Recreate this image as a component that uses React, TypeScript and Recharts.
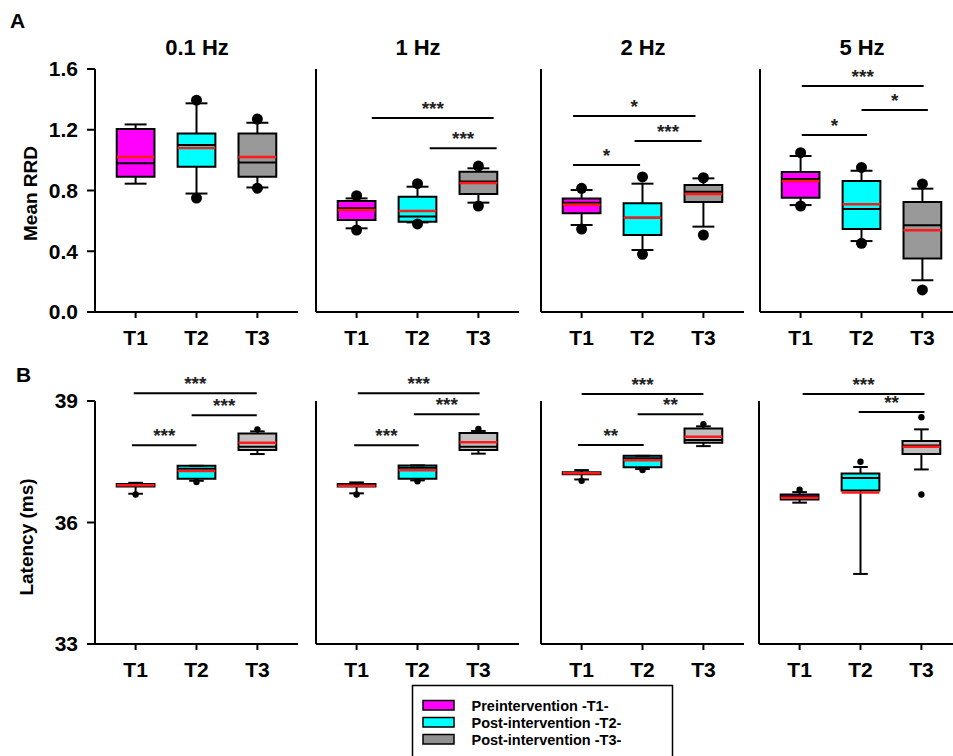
import React from 'react';
import { ComposedChart, XAxis, YAxis, Scatter, ReferenceArea, ReferenceLine } from 'recharts';

const times = ['T1', 'T2', 'T3'];
const freqs = ['0.1 Hz', '1 Hz', '2 Hz', '5 Hz'];
const boxFills = ['#ff00ff', '#00ffff', '#999999'];
const boxFillsB = ['#ff00ff', '#00ffff', '#c0c0c0'];
const legendNames = ['Preintervention -T1-', 'Post-intervention -T2-', 'Post-intervention -T3-'];
const legendFills = ['#ff00ff', '#00ffff', '#909090'];

// Mean RRD: one row per frequency, columns T1..T3
const rrdLow = [[0.845, 0.78, 0.82], [0.551, 0.59, 0.72], [0.573, 0.408, 0.562], [0.704, 0.467, 0.209]];
const rrdQ1 = [[0.89, 0.957, 0.89], [0.606, 0.595, 0.777], [0.65, 0.507, 0.724], [0.753, 0.546, 0.353]];
const rrdMedian = [[0.98, 1.1, 0.985], [0.683, 0.628, 0.86], [0.72, 0.62, 0.792], [0.876, 0.678, 0.571]];
const rrdQ3 = [[1.205, 1.176, 1.176], [0.731, 0.759, 0.924], [0.748, 0.716, 0.836], [0.922, 0.862, 0.724]];
const rrdHigh = [[1.235, 1.374, 1.246], [0.748, 0.825, 0.946], [0.803, 0.845, 0.88], [1.027, 0.93, 0.812]];
const rrdMean = [[1.02, 1.08, 1.02], [0.672, 0.665, 0.849], [0.706, 0.621, 0.777], [0.862, 0.709, 0.538]];
const rrdDots = [
  [[], [1.395, 0.75], [1.27, 0.815]],
  [[0.766, 0.54], [0.845, 0.58], [0.961, 0.698]],
  [[0.814, 0.546], [0.889, 0.38], [0.884, 0.507]],
  [[1.049, 0.698], [0.952, 0.452], [0.843, 0.145]],
];
// significance brackets: [from, to, height, stars]
const rrdBrackets: [number, number, number, string][][] = [
  [],
  [[1.25, 3.25, 1.277, '***'], [2.2, 3.3, 1.078, '***']],
  [[0.86, 2.87, 1.29, '*'], [1.87, 2.97, 1.126, '***'], [0.86, 1.96, 0.968, '*']],
  [[1.02, 3.02, 1.488, '***'], [2.0, 3.09, 1.33, '*'], [1.02, 2.09, 1.165, '*']],
];

// Latency (ms)
const latLow = [[36.71, 37.03, 37.69], [36.72, 37.04, 37.7], [36.74, 37.04, 37.7], [36.49, 34.73, 37.31]];
const latQ1 = [[36.89, 37.08, 37.79], [36.89, 37.08, 37.79], [36.89, 37.09, 37.8], [36.57, 36.79, 37.69]];
const latMedian = [[36.91, 37.33, 37.87], [36.91, 37.35, 37.87], [36.92, 37.35, 37.88], [36.64, 37.1, 37.9]];
const latQ3 = [[36.95, 37.4, 38.2], [36.95, 37.41, 38.21], [36.95, 37.42, 38.21], [36.69, 37.21, 38.01]];
const latHigh = [[36.98, 37.4, 38.25], [36.99, 37.41, 38.26], [37.01, 37.42, 38.27], [36.75, 37.37, 38.3]];
const latMean = [[36.92, 37.27, 37.97], [36.91, 37.29, 37.98], [36.92, 37.29, 37.97], [36.61, 36.74, 37.87]];
const latDots = [
  [[36.69], [37.0], [38.3]],
  [[36.69], [37.02], [38.31]],
  [[36.7], [37.01], [38.33]],
  [[36.81], [37.5], [38.6, 36.69]],
];
const latBrackets: [number, number, number, string][][] = [
  [[0.97, 2.99, 39.19, '***'], [1.92, 2.99, 38.65, '***'], [0.94, 2.0, 37.91, '***']],
  [[1.02, 3.02, 39.19, '***'], [1.94, 3.02, 38.67, '***'], [0.96, 2.02, 37.91, '***']],
  [[1.0, 3.0, 39.2, '***'], [1.92, 3.0, 38.62, '**'], [0.94, 2.02, 37.73, '**']],
  [[1.05, 3.05, 39.17, '***'], [1.97, 3.05, 38.73, '**']],
];
const latDomains = [[33, 39], [33, 39], [32, 39], [33, 39]];

const rrdTicks = [0, 0.4, 0.8, 1.2, 1.6];
const latTicks = [33, 36, 39];

const axisXA = [95, 316, 541, 760];
const axisXB = [95, 316, 541, 759];
const FONT = '"Liberation Sans", Arial, sans-serif';
const HALF = 0.31;

const black = { stroke: '#000', strokeWidth: 2 };

const Panel = ({ left, top, low, q1, med, q3, high, mean, dots, brackets, domain, ticks, labels, fmt, fills, cap, dotR }: any) => {
  const dotData = dots.flatMap((vals: number[], i: number) => vals.map((v) => ({ x: i + 1, y: v })));
  const seg = (x1: number, y1: number, x2: number, y2: number) => [{ x: x1, y: y1 }, { x: x2, y: y2 }];
  return (
    <div style={{ position: 'absolute', left, top }}>
      <ComposedChart width={313} height={348} margin={{ top: 60, right: 10, bottom: 5, left: 0 }}>
        <XAxis
          type="number"
          dataKey="x"
          domain={[1 / 3, 11 / 3]}
          ticks={[1, 2, 3]}
          interval={0}
          allowDataOverflow
          tickFormatter={(v) => times[v - 1]}
          tick={{ fontSize: 21, fontWeight: 700, fill: '#000' }}
          tickSize={6}
          tickMargin={12}
          height={40}
          axisLine={black}
          tickLine={black}
        />
        <YAxis
          type="number"
          dataKey="y"
          width={100}
          domain={domain}
          ticks={ticks}
          interval={0}
          allowDataOverflow
          tick={labels ? { fontSize: 21, fontWeight: 700, fill: '#000' } : false}
          tickFormatter={fmt}
          tickSize={labels ? 8 : 7}
          tickMargin={9}
          axisLine={black}
          tickLine={black}
        />
        {times.map((t, i) => {
          const x = i + 1;
          return [
            <ReferenceLine key={t + 'wu'} segment={seg(x, q3[i], x, high[i])} {...black} ifOverflow="visible" />,
            <ReferenceLine key={t + 'wd'} segment={seg(x, low[i], x, q1[i])} {...black} ifOverflow="visible" />,
            <ReferenceLine key={t + 'cu'} segment={seg(x - cap, high[i], x + cap, high[i])} {...black} ifOverflow="visible" />,
            <ReferenceLine key={t + 'cd'} segment={seg(x - cap, low[i], x + cap, low[i])} {...black} ifOverflow="visible" />,
            <ReferenceArea
              key={t + 'box'}
              x1={x - HALF}
              x2={x + HALF}
              y1={q1[i]}
              y2={q3[i]}
              fill={fills[i]}
              fillOpacity={1}
              stroke="#000"
              strokeWidth={2}
              ifOverflow="visible"
            />,
            <ReferenceLine key={t + 'med'} segment={seg(x - HALF, med[i], x + HALF, med[i])} {...black} ifOverflow="visible" />,
            <ReferenceLine
              key={t + 'mean'}
              segment={seg(x - HALF, mean[i], x + HALF, mean[i])}
              stroke="#ff1a1a"
              strokeWidth={2.5}
              ifOverflow="visible"
            />,
          ];
        })}
        <Scatter
          data={dotData}
          isAnimationActive={false}
          shape={(p: any) => <circle cx={p.cx} cy={p.cy} r={dotR} fill="#000" />}
        />
        {brackets.map((b: [number, number, number, string], k: number) => (
          <ReferenceLine
            key={'sig' + k}
            segment={seg(b[0], b[2], b[1], b[2])}
            {...black}
            ifOverflow="visible"
            label={{ value: b[3], position: 'top', offset: 3, fontSize: 19, fontWeight: 700, fill: '#222' }}
          />
        ))}
      </ComposedChart>
    </div>
  );
};

const App = () => {
  return (
    <div
      style={{
        position: 'absolute',
        left: 0,
        top: 0,
        width: 953,
        height: 756,
        overflow: 'hidden',
        background: '#fff',
        fontFamily: FONT,
      }}
    >
      {freqs.map((f, i) => (
        <Panel
          key={'A' + f}
          left={axisXA[i] - 100}
          top={69 - 60}
          low={rrdLow[i]}
          q1={rrdQ1[i]}
          med={rrdMedian[i]}
          q3={rrdQ3[i]}
          high={rrdHigh[i]}
          mean={rrdMean[i]}
          dots={rrdDots[i]}
          brackets={rrdBrackets[i]}
          domain={[0, 1.6]}
          ticks={rrdTicks}
          labels={i === 0}
          fmt={(v: number) => v.toFixed(1)}
          fills={boxFills}
          cap={0.18}
          dotR={5.5}
        />
      ))}
      {freqs.map((f, i) => (
        <Panel
          key={'B' + f}
          left={axisXB[i] - 100}
          top={401 - 60}
          low={latLow[i]}
          q1={latQ1[i]}
          med={latMedian[i]}
          q3={latQ3[i]}
          high={latHigh[i]}
          mean={latMean[i]}
          dots={latDots[i]}
          brackets={latBrackets[i]}
          domain={latDomains[i]}
          ticks={latTicks}
          labels={i === 0}
          fmt={(v: number) => String(v)}
          fills={boxFillsB}
          cap={0.12}
          dotR={3.2}
        />
      ))}
      <svg width={953} height={756} style={{ position: 'absolute', left: 0, top: 0, pointerEvents: 'none' }}>
        <g fontFamily={FONT} fontWeight={700} fill="#000">
          <text x={10} y={28} fontSize={21}>A</text>
          <text x={16} y={382} fontSize={21}>B</text>
          {freqs.map((f, i) => (
            <text key={f} x={axisXA[i] + 102} y={55} fontSize={22} textAnchor="middle">
              {f}
            </text>
          ))}
          <text x={36.5} y={193.5} fontSize={19} textAnchor="middle" transform="rotate(-90 36.5 193.5)">
            Mean RRD
          </text>
          <text x={33} y={537} fontSize={19} textAnchor="middle" transform="rotate(-90 33 537)">
            Latency (ms)
          </text>
        </g>
        <rect x={412.5} y={685.5} width={260} height={100} fill="#fff" stroke="#000" strokeWidth={1.5} />
        {legendNames.map((n, i) => (
          <g key={n}>
            <rect x={423} y={700.5 + i * 17} width={31} height={9.5} fill={legendFills[i]} stroke="#000" strokeWidth={1.5} />
            <text x={471.5} y={710.5 + i * 17} fontFamily={FONT} fontWeight={700} fontSize={14.5}>
              {n}
            </text>
          </g>
        ))}
      </svg>
    </div>
  );
};

export default App;
